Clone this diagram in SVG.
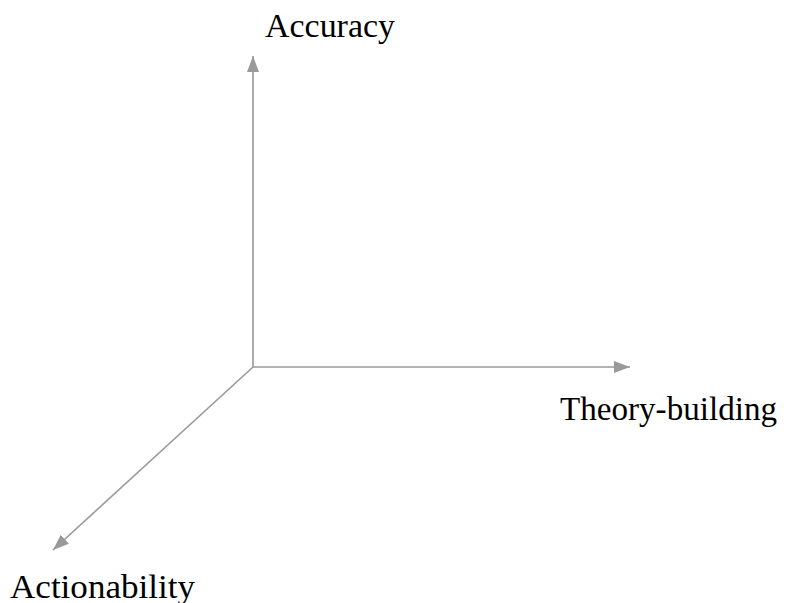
<svg xmlns="http://www.w3.org/2000/svg" width="793" height="603" viewBox="0 0 793 603">
<style>
.ax{stroke:#999;stroke-width:1.6;fill:none}
.lbl{font-family:"Liberation Serif","Times New Roman",serif;font-size:33px;fill:#000}
</style>
<defs>
<marker id="ahb" viewBox="0 0 16 12" refX="16" refY="6" markerWidth="16" markerHeight="12" markerUnits="userSpaceOnUse" orient="auto">
<path d="M0,0 L16,6 L0,12 z" fill="#999"/>
</marker>
</defs>
<g id="connectors">
<line class="ax" x1="253" y1="367" x2="253" y2="56" marker-end="url(#ahb)"/>
<line class="ax" x1="253" y1="367" x2="630" y2="367" marker-end="url(#ahb)"/>
<line class="ax" x1="253" y1="367" x2="53" y2="550" marker-end="url(#ahb)"/>
</g>
<g id="accuracy"><text class="lbl" x="265" y="37" textLength="130" lengthAdjust="spacingAndGlyphs">Accuracy</text></g>
<g id="theory"><text class="lbl" x="560" y="420" textLength="217" lengthAdjust="spacingAndGlyphs">Theory-building</text></g>
<g id="actionability"><text class="lbl" x="10" y="598" textLength="185" lengthAdjust="spacingAndGlyphs">Actionability</text></g>
</svg>
